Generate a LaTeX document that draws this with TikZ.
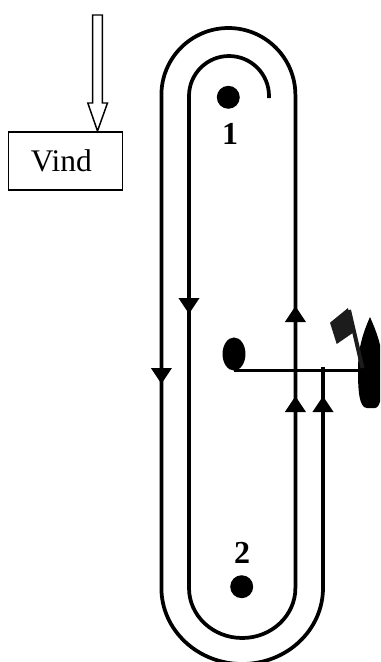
\documentclass[tikz,border=0pt]{standalone}
\usepackage{fontspec}
\setmainfont{Liberation Serif}
\usetikzlibrary{shapes.geometric, arrows.meta}
\definecolor{flagblack}{RGB}{28, 28, 28}
\tikzset{
    wire/.style={line width=2.8pt, black},
    flowtip/.style={wire, -{Triangle[length=12pt, width=15pt]}},
    beam/.style={line width=2pt, black},
    pindot/.style={circle, fill=black, inner sep=0pt, minimum size=17.2pt},
    pinlabel/.style={inner sep=0pt, font=\fontsize{24}{24}\selectfont\bfseries},
    hub/.style={ellipse, fill=black, inner sep=0pt, minimum width=17.2pt, minimum height=24.8pt},
    vindbox/.style={rectangle, draw, line width=1pt, minimum width=85.5pt, minimum height=43.5pt, inner sep=0pt, font=\fontsize{23.6}{24}\selectfont},
    windarrow/.style={draw, line width=1.1pt, fill=white, line join=miter}
}
\begin{document}
\begin{tikzpicture}[x=0.75pt, y=-0.75pt]
    \useasboundingbox (0,0) rectangle (380,662);
    \clip (0,0) rectangle (380,662);
    % wind
    \node[vindbox] (vind) at (65.3,161) {Vind\kern6pt};
    \draw[windarrow] (92.7,15) -- (102.3,15) -- (102.3,103) -- (107.5,103) -- (97.5,131)
        -- (87.8,103) -- (92.7,103) -- cycle;
    % track
    \draw[wire] (269,98) -- (269,96) arc[start angle=0, end angle=-180, radius=40]
        -- (189,588) arc[start angle=180, end angle=0, x radius=53.2, y radius=50]
        -- (295.4,95) arc[start angle=0, end angle=-180, radius=67]
        -- (161.4,588) arc[start angle=180, end angle=0, x radius=80.8, y radius=76]
        -- (323,367);
    \draw[flowtip] (189,290) -- (189,314);
    \draw[flowtip] (161.4,360) -- (161.4,384);
    \draw[flowtip] (295.4,330) -- (295.4,306);
    \draw[flowtip] (295.4,420) -- (295.4,396);
    \draw[flowtip] (323,420) -- (323,396);
    % marks
    \node[pindot] (pinone) at (228.3,97.3) {};
    \node[pinlabel] (labelone) at (230,134) {1};
    \node[pindot] (pintwo) at (241.7,586.7) {};
    \node[pinlabel] (labeltwo) at (242,553) {2};
    % boat
    \node[hub] (hubnode) at (234,354) {};
    \coordinate (sailfoot) at (362,370);
    \draw[beam] (hubnode.south) -- (hubnode.south -| sailfoot);
    \fill[black] (370,317) .. controls (362,335) and (358,350) .. (358,370)
        .. controls (358,390) and (359,408) .. (367,408) -- (375,408)
        .. controls (381,408) and (383,390) .. (383,370)
        .. controls (383,350) and (378,335) .. (370,317) -- cycle;
    \draw[line width=3pt, flagblack] (349,310) -- (362.5,368);
    \fill[flagblack] (330,322.7) -- (348,308) -- (352.7,333) -- (336.7,344) -- cycle;
\end{tikzpicture}
\end{document}
